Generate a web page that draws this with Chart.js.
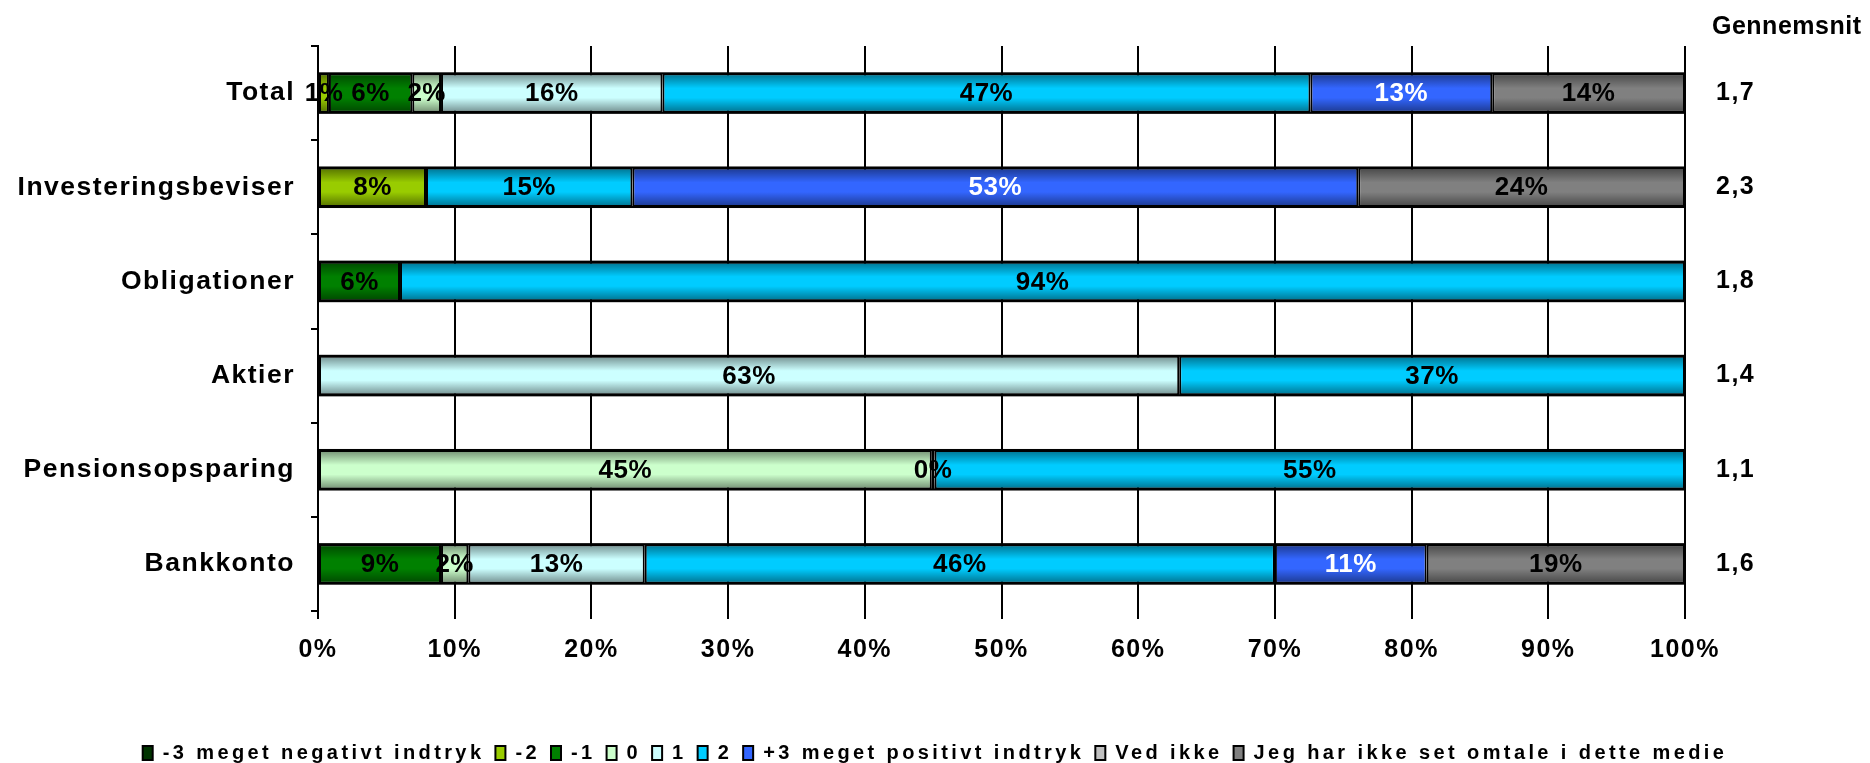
<!DOCTYPE html>
<html>
<head>
<meta charset="utf-8">
<script src="https://cdn.jsdelivr.net/npm/chart.js@4.4.1/dist/chart.umd.min.js"></script>
<style>
html, body { margin: 0; padding: 0; background: #fff; }
</style>
</head>
<body>
<canvas id="chart-impression" width="1870" height="763"></canvas>
<script>
// Indtryk af omtale i medier - 100% stacked bars
const categories = ['Total', 'Investeringsbeviser', 'Obligationer', 'Aktier', 'Pensionsopsparing', 'Bankkonto'];
const averages = ['1,7', '2,3', '1,8', '1,4', '1,1', '1,6'];
const averageTitle = 'Gennemsnit';

const seriesNames = ['-3 meget negativt indtryk', '-2', '-1', '0', '1', '2', '+3 meget positivt indtryk', 'Ved ikke', 'Jeg har ikke set omtale i dette medie'];
const seriesColors = ['#003300', '#99cc00', '#008000', '#ccffcc', '#ccffff', '#00ccff', '#3366ff', '#c0c0c0', '#808080'];
const labelColors = ['#000', '#000', '#000', '#000', '#000', '#000', '#fff', '#000', '#000'];

// percentages per category
const negative3 = [null, null, null, null, null, null];
const negative2 = [0.8, 7.9, null, null, null, null];
const negative1 = [6.1, null, 6.0, null, null, 9.0];
const neutral0  = [2.1, null, null, null, 44.9, 2.0];
const positive1 = [16.2, null, null, 63.0, 0.2, 12.9];
const positive2 = [47.4, 15.1, 94.0, 37.0, 54.9, 46.1];
const positive3 = [13.3, 53.1, null, null, null, 11.1];
const dontKnow  = [null, null, null, null, null, null];
const notSeen   = [14.1, 23.9, null, null, null, 18.9];
const seriesValues = [negative3, negative2, negative1, neutral0, positive1, positive2, positive3, dontKnow, notSeen];

const FONT = "'Liberation Sans', Arial, Helvetica, sans-serif";

const textSpacing = {
    id: 'textSpacing',
    beforeUpdate(chart) { chart.ctx.letterSpacing = '1.5px'; },
    beforeDraw(chart) { chart.ctx.letterSpacing = '1.5px'; },
    afterInit(chart) {
        // the legend text is spaced wider than the rest
        const legend = chart.legend;
        if (!legend) return;
        const wrap = fn => function (...args) {
            const ctx = this.ctx;
            const prev = ctx.letterSpacing;
            ctx.letterSpacing = '3.4px';
            const r = fn.apply(this, args);
            ctx.letterSpacing = prev;
            return r;
        };
        legend.fit = wrap(legend.fit);
        legend.draw = wrap(legend.draw);
    },
};

const barDecor = {
    id: 'barDecor',
    afterDatasetsDraw(chart) {
        const ctx = chart.ctx;
        const xScale = chart.scales.x;
        const x0 = xScale.getPixelForValue(0);
        const x1 = xScale.getPixelForValue(100);
        const ref = chart.getDatasetMeta(5).data;

        // Excel-like shading: darker at top and bottom of each bar
        ref.forEach(el => {
            const top = el.y - el.height / 2;
            const bottom = el.y + el.height / 2;
            const g = ctx.createLinearGradient(0, top, 0, bottom);
            g.addColorStop(0, 'rgba(0,0,0,0.45)');
            g.addColorStop(0.38, 'rgba(0,0,0,0)');
            g.addColorStop(0.62, 'rgba(0,0,0,0)');
            g.addColorStop(1, 'rgba(0,0,0,0.45)');
            ctx.save();
            ctx.fillStyle = g;
            ctx.fillRect(x0, top, x1 - x0, bottom - top);
            ctx.strokeStyle = '#000';
            ctx.lineWidth = 2;
            ctx.strokeRect(x0, top, x1 - x0, bottom - top);
            ctx.restore();
        });

        // value labels
        ctx.save();
        ctx.letterSpacing = '0.5px';
        ctx.font = `bold 26px ${FONT}`;
        ctx.textAlign = 'center';
        ctx.textBaseline = 'middle';
        chart.data.datasets.forEach((ds, di) => {
            const meta = chart.getDatasetMeta(di);
            meta.data.forEach((el, i) => {
                const v = ds.data[i];
                if (v == null) return;
                ctx.fillStyle = labelColors[di];
                ctx.fillText(Math.round(v) + '%', (el.x + el.base) / 2, el.y + 1);
            });
        });

        ctx.fillStyle = '#000';
        ctx.letterSpacing = '0.5px';
        ctx.font = `bold 25px ${FONT}`;
        ctx.textAlign = 'left';
        ctx.fillText(averageTitle, 1712, 27);
        ctx.restore();
    },
};

const chart = new Chart(document.getElementById('chart-impression').getContext('2d'), {
    type: 'bar',
    data: {
        labels: categories,
        datasets: seriesNames.map((name, i) => ({
            label: name,
            data: seriesValues[i],
            backgroundColor: seriesColors[i],
            borderColor: '#000',
            borderWidth: 2,
            borderSkipped: false,
            barPercentage: 0.42,
            categoryPercentage: 1,
        })),
    },
    options: {
        indexAxis: 'y',
        responsive: false,
        animation: false,
        layout: { padding: { top: 42, right: 0, bottom: -10, left: 0 } },
        scales: {
            x: {
                stacked: true,
                min: 0,
                max: 100,
                ticks: {
                    stepSize: 10,
                    callback: v => v + '%',
                    color: '#000',
                    font: { family: FONT, size: 25, weight: 'bold' },
                    padding: 16,
                    maxRotation: 0,
                },
                grid: { color: '#000', lineWidth: 2, tickLength: 8 },
                border: { display: false },
                afterFit: s => { s.height = 121; },
            },
            y: {
                stacked: true,
                ticks: {
                    color: '#000',
                    font: { family: FONT, size: 26.5, weight: 'bold' },
                    padding: 16,
                },
                grid: { color: '#000', lineWidth: 2, tickLength: 7, drawOnChartArea: false, offset: true },
                border: { color: '#000', width: 2 },
                afterFit: s => { s.width = 318; },
            },
            y2: {
                type: 'category',
                position: 'right',
                labels: averages,
                offset: true,
                ticks: {
                    color: '#000',
                    font: { family: FONT, size: 25, weight: 'bold' },
                    padding: 31,
                },
                grid: { display: false, drawTicks: false },
                border: { display: false },
                afterFit: s => { s.width = 185; },
            },
        },
        plugins: {
            legend: {
                position: 'bottom',
                labels: {
                    color: '#000',
                    font: { family: FONT, size: 20, weight: 'bold' },
                    boxWidth: 10,
                    boxHeight: 14,
                    padding: 11,
                },
            },
            tooltip: { enabled: false },
        },
    },
    plugins: [textSpacing, barDecor],
});
</script>
</body>
</html>
